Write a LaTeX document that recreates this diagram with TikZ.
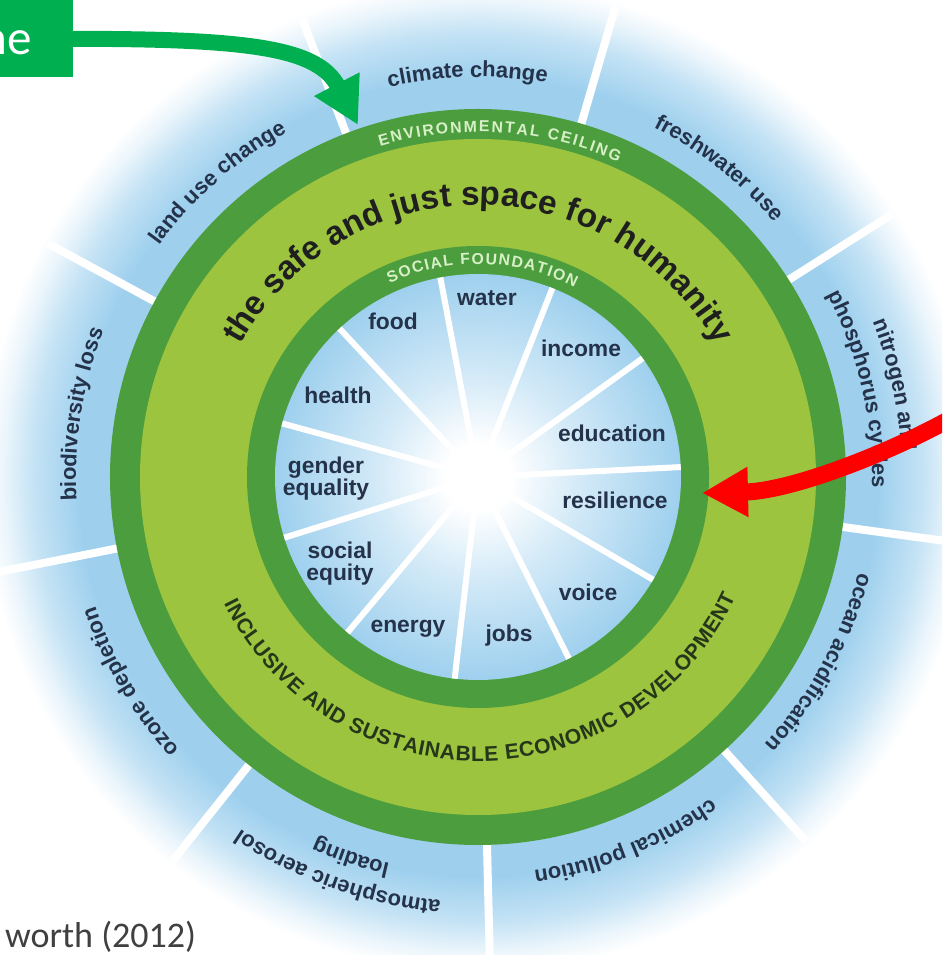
\documentclass[tikz,border=0pt]{standalone}
\usepackage{fontspec}
\setmainfont{Liberation Sans}
\newfontfamily\slidefont{Carlito}
\usetikzlibrary{arrows.meta}
\usetikzlibrary{decorations.text}

\definecolor{skyblue}{RGB}{158,208,238}
\definecolor{ceilinggreen}{HTML}{4C9D3D}
\definecolor{spacegreen}{HTML}{9CC43E}
\definecolor{labelnavy}{HTML}{24324A}
\definecolor{ringtext}{HTML}{D8F0C8}
\definecolor{devdark}{HTML}{26361A}
\definecolor{pptgreen}{HTML}{00B050}

% blue halo behind the ceiling, fading out to white (25bp = rim of the path)
\pgfdeclareradialshading{ceilinghalo}{\pgfpointorigin}{color(0bp)=(skyblue); color(20bp)=(skyblue); color(22.25bp)=(skyblue!60!white); color(23.75bp)=(skyblue!20!white); color(24.75bp)=(white); color(50bp)=(white)}
% white glow in the middle of the social foundation
\pgfdeclareradialshading{foundationdisc}{\pgfpointorigin}{color(0bp)=(white); color(4bp)=(white); color(12.5bp)=(skyblue!45!white); color(21bp)=(skyblue!82!white); color(25bp)=(skyblue); color(50bp)=(skyblue)}

\begin{document}
\begin{tikzpicture}[x=0.02cm,y=0.02cm,
  outerray/.style={white,line width=0.16cm},
  innerray/.style={white,line width=0.12cm},
  needlabel/.style={font=\fontsize{13}{12.5}\selectfont\bfseries,text=labelnavy,align=center,inner sep=0},
  boundary/.style={decorate,decoration={text along path,text align=center,text color=labelnavy,text={|\fontsize{12.5}{14}\selectfont\bfseries|#1}}},
  ringcaps/.style={decorate,decoration={text along path,text align={fit to path},text color=ringtext,text={|\fontsize{9}{10}\selectfont\bfseries|#1}}}]
\useasboundingbox (-478,-478) rectangle (464,477);
\clip (-478,-478) rectangle (464,477);
\fill[white] (-478,-478) rectangle (464,477);

% planetary boundaries
\shade[shading=ceilinghalo] (0,0) circle[radius=500];
\draw[outerray] (111:340) -- (111:490);
\draw[outerray] (73.7:340) -- (73.7:490);
\draw[outerray] (32.4:340) -- (32.4:490);
\draw[outerray] (-7.8:340) -- (-7.8:490);
\draw[outerray] (-48:340) -- (-48:490);
\draw[outerray] (-88.6:340) -- (-88.6:490);
\draw[outerray] (-128.5:340) -- (-128.5:490);
\draw[outerray] (-168.8:340) -- (-168.8:490);
\draw[outerray] (151.5:340) -- (151.5:490);

% doughnut rings
\fill[ceilinggreen] (0,0) circle[radius=368];
\fill[spacegreen] (0,0) circle[radius=338];
\fill[ceilinggreen] (0,0) circle[radius=231];
\shade[shading=foundationdisc] (0,0) circle[radius=203];

% social foundation spokes
\draw[innerray] (100.7:28) -- (100.7:203);
\draw[innerray] (68.5:28) -- (68.5:203);
\draw[innerray] (35.8:28) -- (35.8:203);
\draw[innerray] (2.8:28) -- (2.8:203);
\draw[innerray] (-30.4:28) -- (-30.4:203);
\draw[innerray] (-63.4:28) -- (-63.4:203);
\draw[innerray] (-96.6:28) -- (-96.6:203);
\draw[innerray] (-130:28) -- (-130:203);
\draw[innerray] (-162.6:28) -- (-162.6:203);
\draw[innerray] (164.7:28) -- (164.7:203);
\draw[innerray] (133:28) -- (133:203);

\node[needlabel] (water) at (9,179) {water};
\node[needlabel] (food) at (-85,156) {food};
\node[needlabel] (income) at (103,129) {income};
\node[needlabel] (health) at (-140,82) {health};
\node[needlabel] (education) at (134,44) {education};
\node[needlabel] (gender) at (-152,-2) {gender\\equality};
\node[needlabel] (resilience) at (137,-23) {resilience};
\node[needlabel] (equity) at (-138,-87) {social\\equity};
\node[needlabel] (voice) at (110,-115) {voice};
\node[needlabel] (energy) at (-70,-152) {energy};
\node[needlabel] (jobs) at (31,-159) {jobs};

% ring captions
\path[ringcaps=ENVIRONMENTAL CEILING] (106.5:345) arc[start angle=106.5,end angle=66,radius=345];
\path[ringcaps=SOCIAL FOUNDATION] (114.5:213) arc[start angle=114.5,end angle=63,radius=213];
\path[decorate,decoration={text along path,text align=center,text color=black!88,text={|\fontsize{19}{22}\selectfont\bfseries|the safe and just space for humanity}}] (178:272) arc[start angle=178,end angle=2,radius=272];
\path[decorate,decoration={text along path,text align={fit to path},text color=devdark,text={|\fontsize{12}{14}\selectfont\bfseries|INCLUSIVE AND SUSTAINABLE ECONOMIC DEVELOPMENT}}] (-153.5:284) arc[start angle=-153.5,end angle=-25,radius=284];

% boundary labels, clockwise
\path[boundary=climate change] (113.5:400) arc[start angle=113.5,end angle=69.5,radius=400];
\path[boundary=freshwater use] (74:391) arc[start angle=74,end angle=30,radius=391];
\path[boundary=nitrogen and] (34.5:424) arc[start angle=34.5,end angle=-9.5,radius=424];
\path[boundary=phosphorus cycles] (35:394) arc[start angle=35,end angle=-9,radius=394];
\path[boundary=ocean acidification] (-6.5:392) arc[start angle=-6.5,end angle=-50.5,radius=392];
\path[boundary=chemical pollution] (-46:397) arc[start angle=-46,end angle=-90,radius=397];
\path[boundary=atmospheric aerosol] (-87.5:425) arc[start angle=-87.5,end angle=-131.5,radius=425];
\path[boundary=loading] (-86.5:396) arc[start angle=-86.5,end angle=-130.5,radius=396];
\path[boundary=ozone depletion] (-127.5:404) arc[start angle=-127.5,end angle=-171.5,radius=404];
\path[boundary=biodiversity loss] (193:402) arc[start angle=193,end angle=149,radius=402];
\path[boundary=land use change] (153.5:394) arc[start angle=153.5,end angle=109.5,radius=394];

% slide overlay
\node[fill=pptgreen,minimum width=2.4cm,minimum height=1.54cm,inner sep=0,anchor=north east] (outlinebox) at (-405,477) {};
\node[font=\slidefont\fontsize{28}{30}\selectfont,text=white,anchor=base east] (outlinelabel) at (-440,422) {ne};
\coordinate (ceilingpt) at (-120,352);
\draw[pptgreen,line width=0.32cm,-{Triangle[length=0.92cm,width=0.96cm]}] (outlinebox.east) .. controls +(177,0) and +(-40,77) .. (ceilingpt);

\coordinate (offright) at (472,58);
\coordinate (foundationpt) at (224,-16);
\draw[red,line width=0.34cm,-{Triangle[length=0.92cm,width=0.94cm]}] (offright) .. controls +(-65,-36) and +(88,2) .. (foundationpt);

\node[font=\slidefont\fontsize{20.5}{24}\selectfont,text=black!75,anchor=base west] (citation) at (-479,-470) {worth (2012)};
\end{tikzpicture}
\end{document}
